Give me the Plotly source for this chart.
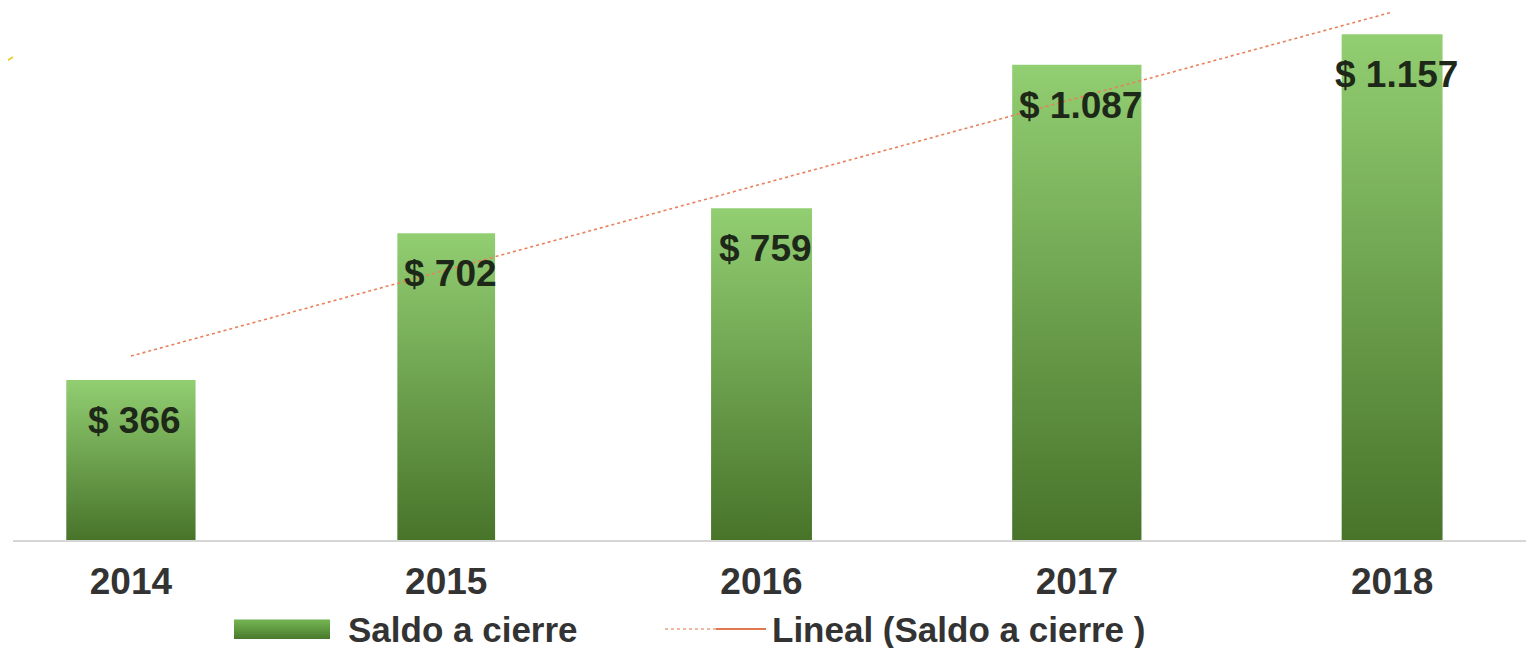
import numpy as np
import plotly.graph_objects as go

# ---- data ----
years = ["2014", "2015", "2016", "2017", "2018"]
saldo = [366, 702, 759, 1087, 1157]
labels = ["$ 366", "$ 702", "$ 759", "$ 1.087", "$ 1.157"]
bar_name = "Saldo a cierre"
trend_name = "Lineal (Saldo a cierre )"

# ---- style ----
bar_widths = [0.41, 0.31, 0.32, 0.41, 0.32]
TOP = "rgb(146,206,114)"
BOT = "rgb(72,116,42)"
FONT = "Liberation Sans, Arial, sans-serif"
TXT = "#333333"

# page is offset by the 8px body margin; figure coords = page coords - 8
W, H = 1534, 648
L, R, T, B = 5, 8, 0, 116
PW, PH = W - L - R, H - T - B          # plot area in px
XR = [-0.374, 4.45]
YR = [0, 1217]

xi = np.arange(len(years))
vals = np.array(saldo, dtype=float)

fig = go.Figure()

# gradient-filled bars
for i, (v, w) in enumerate(zip(vals, bar_widths)):
    x0, x1 = xi[i] - w / 2, xi[i] + w / 2
    fig.add_trace(go.Scatter(
        x=[x0, x1, x1, x0, x0], y=[0, 0, v, v, 0],
        mode="lines", fill="toself", line=dict(width=0, color=BOT),
        fillgradient=dict(type="vertical", colorscale=[[0, BOT], [1, TOP]]),
        name=bar_name, showlegend=False, hoverinfo="skip",
    ))

# linear trendline (least squares on the data)
coef = np.polyfit(xi + 1, vals, 1)
trend = np.polyval(coef, xi + 1)
fig.add_trace(go.Scatter(
    x=xi, y=trend, mode="lines", name=trend_name, showlegend=False,
    line=dict(color="rgb(232,128,92)", width=1.6, dash="dot"),
    hoverinfo="skip",
))

# value labels
for i, (v, t) in enumerate(zip(vals, labels)):
    fig.add_annotation(
        x=xi[i], y=v, text="<b>%s</b>" % t, showarrow=False,
        xanchor="center", yanchor="top", yshift=-18, xshift=4,
        font=dict(family=FONT, size=37, color="#1d2818"),
    )

def px(xp):
    return (xp - 8 - L) / PW

def py(yp):
    return 1 - (yp - 8 - T) / PH

# manual legend
n_strips = 10
sw_top, sw_bot = 620, 639
h = (sw_bot - sw_top) / n_strips
c0 = np.array([74, 122, 44]); c1 = np.array([112, 176, 80])
for s in range(n_strips):
    t = s / (n_strips - 1)
    c = (c0 + (c1 - c0) * t).round().astype(int)
    yb = sw_bot - s * h
    fig.add_shape(type="rect", xref="paper", yref="paper",
                  x0=px(234), x1=px(330), y0=py(yb + (0.6 if s else 0)), y1=py(yb - h - 0.6),
                  line=dict(width=0), fillcolor="rgb(%d,%d,%d)" % tuple(c))
fig.add_annotation(xref="paper", yref="paper", x=px(346), y=py(629), text="<b>%s</b>" % bar_name,
                   showarrow=False, xanchor="left", yanchor="middle",
                   font=dict(family=FONT, size=35, color=TXT))
fig.add_shape(type="line", xref="paper", yref="paper", x0=px(665), x1=px(716), y0=py(629), y1=py(629),
              line=dict(color="rgb(236,160,130)", width=1.5, dash="dot"))
fig.add_shape(type="line", xref="paper", yref="paper", x0=px(716), x1=px(766), y0=py(629), y1=py(629),
              line=dict(color="rgb(226,120,80)", width=2))
fig.add_annotation(xref="paper", yref="paper", x=px(770), y=py(629), text="<b>%s</b>" % trend_name,
                   showarrow=False, xanchor="left", yanchor="middle",
                   font=dict(family=FONT, size=35, color=TXT))

# decorative corner stroke (partially visible)
fig.add_shape(type="line", xref="paper", yref="paper", x0=px(0), y0=py(65), x1=px(13), y1=py(57),
              line=dict(color="#e8cf3a", width=2))

fig.update_layout(
    width=W, height=H,
    margin=dict(l=L, r=R, t=T, b=B, autoexpand=False),
    paper_bgcolor="white", plot_bgcolor="white",
    font=dict(family=FONT, color=TXT),
    xaxis=dict(
        tickmode="array", tickvals=xi, ticktext=["<b>%s</b>" % y for y in years],
        range=XR, showgrid=False, zeroline=False,
        showline=True, linecolor="#d6d6d6", linewidth=2,
        ticks="", tickfont=dict(size=37, color=TXT, family=FONT),
        ticklabelstandoff=8, fixedrange=True,
    ),
    yaxis=dict(range=YR, visible=False, fixedrange=True),
    showlegend=False,
)

fig.write_html("out.html")
